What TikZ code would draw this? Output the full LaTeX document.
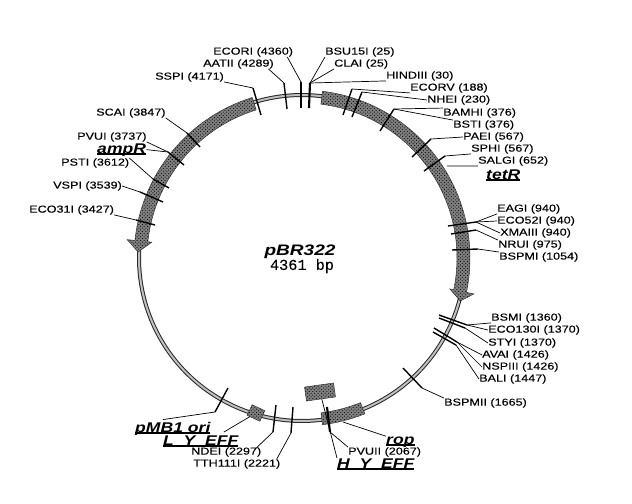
\documentclass[tikz,border=0pt]{standalone}
\usepackage{fontspec}
\usetikzlibrary{patterns}
\newfontfamily\sitefont[FakeStretch=1.25,FakeBold=0.35]{Liberation Sans}
\newfontfamily\genefont[FakeStretch=1.25]{Liberation Sans}
\newfontfamily\titlefont[FakeBold=0.3]{Liberation Mono}
\newcommand\geneline[1]{\setbox0\hbox{#1}\rlap{\rule[-1.3pt]{\wd0}{.9pt}}\box0}
\tikzset{
  site/.style={anchor=west,inner sep=0pt,font=\sitefont\fontsize{8.6}{10}\selectfont},
  gene/.style={anchor=base west,inner sep=0pt,font=\genefont\bfseries\itshape\fontsize{12}{14}\selectfont},
  tick/.style={line width=1.2pt},
  leader/.style={line width=.6pt},
  band/.style={draw=black!80,line width=.4pt,preaction={fill=black!50},pattern=crosshatch dots,pattern color=black},
}
\begin{document}
\begin{tikzpicture}[x=.03cm,y=-.03cm]
\useasboundingbox (0,0) rectangle (632,504);
% plasmid ring and genes
\begin{scope}[shift={(302,258)}]
\draw[line width=3.4pt,black!85,domain=0:360,samples=180] plot (\x:163) -- cycle;
\draw[line width=1.7pt,gray!50,domain=0:360,samples=180] plot (\x:163) -- cycle;
\filldraw[band,domain=-83:11.8,samples=60] plot (\x:168) -- (11.8:175.7) -- (15.2:164) -- (11.8:151) -- plot[domain=11.8:-83] (\x:155) -- cycle;
\filldraw[band,domain=252.8:186,samples=40] plot (\x:168) -- (186:175.8) -- (182.1:164) -- (186:151) -- plot[domain=186:252.8] (\x:155) -- cycle;
\filldraw[band,domain=83:68,samples=10] plot (\x:168) -- plot[domain=68:83] (\x:156) -- cycle;
\end{scope}
\node[band,inner sep=0pt,minimum width=25pt,minimum height=12pt,rotate=8] (ropbox) at (320,392) {};
\node[band,inner sep=0pt,minimum width=12pt,minimum height=10pt,rotate=-25] (lbox) at (256,413) {};
\coordinate (rope) at (343,422);
\coordinate (salgiend) at (447,166);
% title
\node[inner sep=0pt,font=\genefont\bfseries\itshape\fontsize{13}{15}\selectfont] (title) at (300,252) {pBR322};
\node[inner sep=0pt,font=\titlefont\fontsize{13}{15}\selectfont] (size) at (302,266) {4361 bp};
% site labels
\foreach \nm/\xx/\yy/\txt in {
  ecori/213/52/ECORI (4360), aatii/203/64/AATII (4289), sspi/155/77/SSPI (4171),
  scai/96/113/SCAI (3847), pvui/77/137/PVUI (3737), psti/61/163/PSTI (3612),
  vspi/53/186/VSPI (3539), ecoiii/29/210/ECO31I (3427),
  bsu/325/52/BSU15I (25), clai/334/64/CLAI (25), hindiii/386/76/HINDIII (30),
  ecorv/410/88/ECORV (188), nhei/427/100/NHEI (230), bamhi/443/113/BAMHI (376),
  bsti/453/125/BSTI (376), paei/463/137/PAEI (567), sphi/471/149/SPHI (567),
  salgi/478/161/SALGI (652), eagi/497/209/EAGI (940), econ/497/221/ECO52I (940),
  xmaiii/500/233/XMAIII (940), nrui/498/245/NRUI (975), bspmi/499/257/BSPMI (1054),
  bsmi/491/318/BSMI (1360), ecot/488/330/ECO130I (1370), styi/488/343/STYI (1370),
  avai/482/355/AVAI (1426), nspiii/482/367/NSPIII (1426), bali/479/379/BALI (1447),
  bspmii/444/403/BSPMII (1665), pvuii/348/452/PVUII (2067),
  ndei/191/452/NDEI (2297), tth/193/464/TTH111I (2221)}
  \node[site] (\nm) at (\xx,\yy) {\txt};
% gene labels
\foreach \nm/\xx/\yy/\txt in {
  ampr/97/153/ampR, tetr/486/179/tetR, rop/386/444/rop,
  hyeff/337/468/H\ \ Y\ \ EFF, lyeff/163/445/L\ \ Y\ \ EFF, pmb/135/432/pMB1 ori}
  \node[gene] (\nm) at (\xx,\yy) {\geneline{\txt}};
% ticks across the ring
\foreach \nm/\xa/\ya/\xb/\yb in {
  tsspi/253/88/261/115, taatii/284/83/287/109, tecori/301/82/301/108,
  tscai/187/133/200/147, tpvui/168/152/184/165, tpsti/153/179/169/188,
  tvspi/140/192/163/202, tecoiii/136/220/155/225,
  tecorv/352/89/343/115, tnhei/362/92/352/117, tbamhi/394/109/380/131,
  tpaei/431/139/412/157, tsalgi/445/156/424/171,
  teagi/476/222/448/226, tnrui/476/230/451/234, tbspmi/478/249/452/250,
  tbsmi/467/325/439/315, tecot/465/328/439/318,
  tavai/457/342/434/328, tbali/456/345/433/332,
  tbspmii/422/388/403/368, tpmb/215/412/228/388,
  tndei/273/432/276/405, ttth/291/433/293/407}
  {\coordinate (\nm a) at (\xa,\ya);
   \coordinate (\nm b) at (\xb,\yb);
   \draw[tick] (\nm a) -- (\nm b);}
\coordinate (tbsua) at (310,83);
\coordinate (tbsub) at (309,108);
\coordinate (tpvuiia) at (327,407);
\coordinate (tpvuiib) at (330,432);
\draw[tick,line width=1.8pt] (tbsua) -- (tbsub);
\draw[tick,line width=1.8pt] (tpvuiia) -- (tpvuiib);
% leaders
\draw[leader] (sspi.south east) -- (tsspia);
\draw[leader] (aatii.south) ++(30,0) -- (taatiia);
\draw[leader] (ecori.south east) ++(-6,0) -- (tecoria);
\draw[leader] (bsu.south west) -- (tbsua);
\draw[leader] (clai.south west) -- (tbsua);
\draw[leader] (hindiii.south west) -- (tbsua);
\draw[leader] (scai.south east) -- (tscaia);
\draw[leader] (pvui.south east) -- (tpvuia);
\draw[leader] (ampr.east) -- (tpvuia);
\draw[leader] (psti.north east) -- (tpstia);
\draw[leader] (vspi.east) -- (tvspia);
\draw[leader] (ecoiii.south east) -- (tecoiiia);
\draw[leader] (ecorv.south west) -- (tecorva);
\draw[leader] (nhei.west) -- (tnheia);
\draw[leader] (bamhi.north west) -- (tbamhia);
\draw[leader] (bsti.north west) -- (tbamhia);
\draw[leader] (paei.west) -- (tpaeia);
\draw[leader] (sphi.south west) -- (tsalgia);
\draw[leader] (salgi.south west) -- (salgiend);
\draw[leader] (eagi.south west) -- (teagia);
\draw[leader] (econ.west) -- (teagia);
\draw[leader] (xmaiii.west) -- (teagia);
\draw[leader] (nrui.north west) -- (tnruia);
\draw[leader] (bspmi.north west) -- (tbspmia);
\draw[leader] (bsmi.south west) -- (tbsmia);
\draw[leader] (ecot.west) -- (tbsmia);
\draw[leader] (styi.west) -- (tecota);
\draw[leader] (avai.west) -- (tavaia);
\draw[leader] (nspiii.west) -- (tavaia);
\draw[leader] (bali.west) -- (tbalia);
\draw[leader] (bspmii.north west) -- (tbspmiia);
\draw[leader] (pvuii.north west) -- (tpvuiib);
\draw[leader] (rop.north west) -- (rope);
\draw[leader] (hyeff.north west) -- (ropbox);
\draw[leader] (pmb.north) ++(-10,-2) -- (tpmba);
\draw[leader] (lyeff.north) ++(23,-3) -- (lbox);
\draw[leader] (ndei.north) ++(30,1) -- (tndeia);
\draw[leader] (tth.north) ++(40,0) -- (tttha);
\end{tikzpicture}
\end{document}
